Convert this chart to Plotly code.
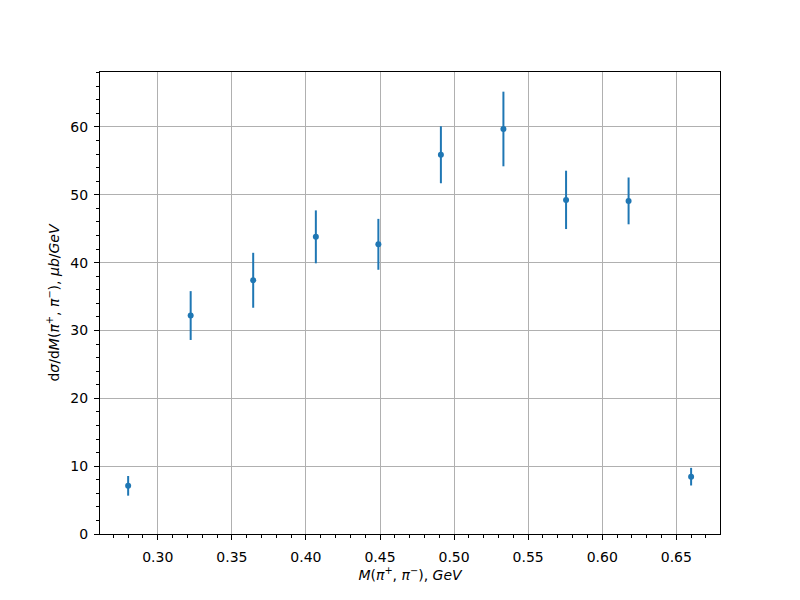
import plotly.graph_objects as go

mass = [0.2800, 0.3222, 0.3644, 0.4067, 0.4489, 0.4911, 0.5333, 0.5756, 0.6178, 0.6600]
xsec = [7.1, 32.2, 37.4, 43.8, 42.7, 55.9, 59.7, 49.25, 49.1, 8.45]
err = [1.45, 3.6, 4.05, 3.9, 3.75, 4.2, 5.5, 4.3, 3.45, 1.3]

x_ticks = [0.30, 0.35, 0.40, 0.45, 0.50, 0.55, 0.60, 0.65]
y_ticks = [0, 10, 20, 30, 40, 50, 60]

blue = "#1f77b4"

fig = go.Figure()
fig.add_trace(go.Scatter(
    x=mass, y=xsec, mode="markers",
    marker=dict(color=blue, size=6),
    error_y=dict(type="data", array=err, color=blue, thickness=2, width=0),
    showlegend=False,
))

axis_common = dict(
    showline=True, linecolor="black", linewidth=1, mirror=True,
    ticks="outside", ticklen=5, tickwidth=1, tickcolor="black",
    showgrid=True, gridcolor="#b0b0b0", gridwidth=1.1,
    zeroline=False,
    tickfont=dict(family="DejaVu Sans", size=14, color="black"),
)

fig.update_xaxes(
    range=[0.261, 0.6795], tickvals=x_ticks,
    ticktext=[f"{v:.2f}" for v in x_ticks],
    ticklabelstandoff=5,
    minor=dict(dtick=0.01, tick0=0.0, ticks="outside", ticklen=3, tickcolor="black", showgrid=False),
    title=dict(text="<i>M</i>(<i>π</i><sup>+</sup>, <i>π</i><sup>−</sup>), <i>GeV</i>",
               font=dict(family="DejaVu Sans", size=14, color="black"), standoff=0),
    **axis_common,
)
fig.update_yaxes(
    range=[0, 68.1], tickvals=y_ticks,
    ticklabelstandoff=3,
    minor=dict(dtick=2, tick0=0, ticks="outside", ticklen=3, tickcolor="black", showgrid=False),
    title=dict(text="d<i>σ</i>/d<i>M</i>(<i>π</i><sup>+</sup>, <i>π</i><sup>−</sup>), <i>μb</i>/<i>GeV</i>",
               font=dict(family="DejaVu Sans", size=14, color="black"), standoff=7),
    **axis_common,
)

fig.update_layout(
    width=784, height=584,
    margin=dict(l=92, r=72, t=64, b=58),
    plot_bgcolor="white", paper_bgcolor="white",
    font=dict(family="DejaVu Sans", size=14, color="black"),
)

fig.write_html("out.html")
